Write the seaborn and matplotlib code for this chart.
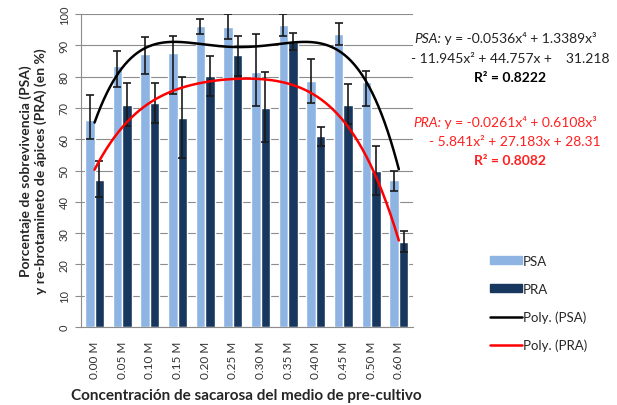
import numpy as np
import pandas as pd
import matplotlib
matplotlib.use("Agg")
import matplotlib.pyplot as plt
from matplotlib.patches import Patch
from matplotlib.lines import Line2D
import seaborn as sns

# ---- data -------------------------------------------------------------
concentrations = ["0.00 M", "0.05 M", "0.10 M", "0.15 M", "0.20 M", "0.25 M",
                  "0.30 M", "0.35 M", "0.40 M", "0.45 M", "0.50 M", "0.60 M"]
psa = [66.0, 83.5, 87.2, 87.4, 96.1, 96.0, 81.5, 96.5, 78.6, 93.5, 78.4, 47.0]
psa_err_lo = [5.9, 6.9, 6.5, 13.0, 2.4, 4.0, 11.0, 3.5, 7.0, 3.5, 7.9, 3.7]
psa_err_hi = [8.1, 4.6, 5.5, 5.7, 2.4, 4.0, 12.2, 3.5, 7.0, 3.5, 3.5, 2.7]
pra = [47.1, 70.9, 71.5, 66.8, 80.3, 86.9, 70.1, 91.0, 60.9, 70.9, 49.7, 27.3]
pra_err_lo = [5.7, 6.8, 6.2, 12.9, 6.6, 6.6, 11.1, 2.5, 3.0, 6.0, 7.5, 3.4]
pra_err_hi = [6.0, 7.1, 6.4, 13.1, 6.4, 6.2, 11.3, 2.8, 3.1, 6.7, 8.2, 3.5]

# polynomial trendline coefficients (highest power first), x = 1..12
psa_poly = [-0.0536, 1.3389, -11.945, 44.757, 31.218]
pra_poly = [-0.0261, 0.6108, -5.841, 27.183, 28.31]

C_PSA = "#8DB4E2"
C_PRA = "#17375E"

sns.set_style("white")
plt.rcParams["font.family"] = ["Lato", "DejaVu Sans"]

df = pd.DataFrame({
    "conc": concentrations * 2,
    "valor": psa + pra,
    "serie": ["PSA"] * len(psa) + ["PRA"] * len(pra),
})

fig = plt.figure(figsize=(6.17, 4.06), dpi=100)
ax = fig.add_axes([0.1308, 0.1921, 0.538, 0.7709])

sns.barplot(data=df, x="conc", y="valor", hue="serie", order=concentrations,
            hue_order=["PSA", "PRA"], palette={"PSA": C_PSA, "PRA": C_PRA},
            width=0.69, errorbar=None, legend=False, ax=ax, zorder=2,
            saturation=1)

# error bars at the centre of each bar
n = len(concentrations)
bars = ax.patches
for k, (vals, lo, hi) in enumerate([(psa, psa_err_lo, psa_err_hi),
                                    (pra, pra_err_lo, pra_err_hi)]):
    xs = [b.get_x() + b.get_width() / 2 for b in bars[k * n:(k + 1) * n]]
    ax.errorbar(xs, vals, yerr=[lo, hi], fmt="none", ecolor="#1a1a1a",
                elinewidth=1.2, capsize=3, capthick=1.2, zorder=4)

# trendlines
xx = np.linspace(1, n, 300)
ax.plot(xx - 1, np.polyval(psa_poly, xx), color="black", lw=1.8, zorder=5)
ax.plot(xx - 1, np.polyval(pra_poly, xx), color="#FF0000", lw=1.8, zorder=5)

# axes styling
ax.set_xlim(-0.5, n - 0.5)
ax.set_ylim(0, 100)
ax.set_yticks(range(0, 101, 10))
ax.yaxis.grid(True, color="#8C8C8C", lw=0.8, zorder=0)
ax.set_axisbelow(True)
for s in ["top", "right"]:
    ax.spines[s].set_visible(False)
for s in ["left", "bottom"]:
    ax.spines[s].set_color("#8C8C8C")
    ax.spines[s].set_linewidth(0.8)

ax.set_xticks(range(n))
ax.set_xticklabels(concentrations, rotation=90, fontsize=8.5, color="#333333")
ax.set_xticks(np.arange(-0.5, n, 1.0), minor=True)
ax.tick_params(axis="x", which="major", length=0, pad=10)
ax.tick_params(axis="x", which="minor", length=4, color="#8C8C8C", width=0.8)
ax.tick_params(axis="y", length=4, color="#8C8C8C", width=0.8, direction="out",
               left=True, labelsize=8, labelcolor="#333333", pad=4)
for t in ax.get_yticklabels():
    t.set_rotation(90)
    t.set_va("center")

ax.set_xlabel("Concentración de sacarosa del medio de pre-cultivo",
              fontsize=11, fontweight="bold", labelpad=7)
ax.set_ylabel("Porcentaje de sobrevivencia (PSA)\ny re-brotamineto de ápices (PRA) (en %)",
              fontsize=10, fontweight="bold", labelpad=8, linespacing=1.3)

# trendline equations
def eq_line(x, y, prefix, rest, color):
    t1 = fig.text(x, y, prefix, fontsize=10, style="italic", color=color,
                  va="baseline", ha="left")
    ax.annotate(rest, xy=(1, 0), xycoords=t1, va="bottom", ha="left",
                fontsize=10, color=color)

H = 406.0
W = 617.0
eq_line(414 / W, 1 - 43 / H, "PSA:", " y = -0.0536x⁴ + 1.3389x³", "#222222")
fig.text(510 / W, 1 - 63 / H, "- 11.945x² + 44.757x +    31.218", fontsize=10,
         color="#222222", ha="center", va="baseline")
fig.text(510 / W, 1 - 82 / H, "R² = 0.8222", fontsize=10, fontweight="bold",
         color="black", ha="center", va="baseline")
eq_line(413 / W, 1 - 127 / H, "PRA:", " y = -0.0261x⁴ + 0.6108x³", "#FF2020")
fig.text(515 / W, 1 - 146 / H, "- 5.841x² + 27.183x + 28.31", fontsize=10,
         color="#FF2020", ha="center", va="baseline")
fig.text(510 / W, 1 - 165 / H, "R² = 0.8082", fontsize=10, fontweight="bold",
         color="#FF2020", ha="center", va="baseline")

# legend
handles = [Patch(color=C_PSA), Patch(color=C_PRA),
           Line2D([], [], color="black", lw=1.8),
           Line2D([], [], color="#FF0000", lw=1.8)]
labels = ["PSA", "PRA", "Poly. (PSA)", "Poly. (PRA)"]
fig.legend(handles, labels, loc="upper left", bbox_to_anchor=(478 / W, 1 - 244 / H),
           frameon=False, fontsize=9.5, handlelength=2.4, handleheight=0.5,
           labelspacing=1.2, handletextpad=0.1)

fig.savefig("out.png", dpi=100)
